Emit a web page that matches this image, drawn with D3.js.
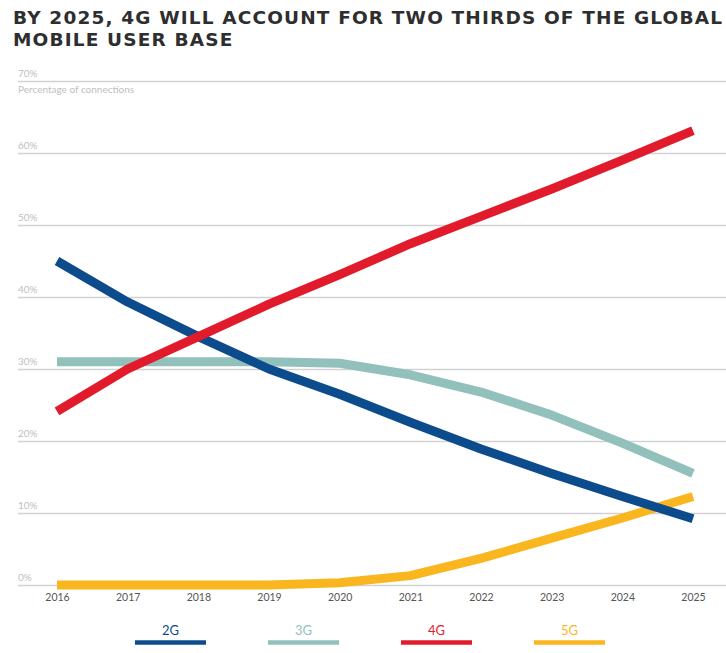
<!DOCTYPE html>
<html>
<head>
<meta charset="utf-8">
<script src="https://cdn.jsdelivr.net/npm/d3@7"></script>
<style>
  html, body { margin: 0; padding: 0; background: #ffffff; }
  svg { display: block; }
</style>
</head>
<body>
<svg id="chart" width="726" height="653"></svg>
<script>
// Share of global mobile connections by technology, 2016-2025
const years = [2016, 2017, 2018, 2019, 2020, 2021, 2022, 2023, 2024, 2025];
const values2G = [45, 39.3, 34.5, 30, 26.5, 22.6, 18.9, 15.5, 12.3, 9.2];
const values3G = [31, 31, 31, 31, 30.8, 29.2, 26.8, 23.6, 19.7, 15.5];
const values4G = [24.1, 30, 34.5, 39, 43.1, 47.4, 51.2, 55, 59, 63.1];
const values5G = [0, 0, 0, 0, 0.3, 1.3, 3.7, 6.5, 9.3, 12.3];
const seriesNames = ["2G", "3G", "4G", "5G"];
const yTicks = [0, 10, 20, 30, 40, 50, 60, 70];
const titleLines = ["BY 2025, 4G WILL ACCOUNT FOR TWO THIRDS OF THE GLOBAL", "MOBILE USER BASE"];
const axisTitle = "Percentage of connections";

const colors = { "2G": "#0d4c8c", "3G": "#92c1bb", "4G": "#e11b2b", "5G": "#fab61f" };
const seriesValues = { "2G": values2G, "3G": values3G, "4G": values4G, "5G": values5G };

const svg = d3.select("#chart");
const font = "Lato, 'Open Sans', sans-serif";

// Title: bold caps, spaced out to fill the first line
const title = svg.append("g");
const t1 = title.append("text").attr("x", 13).attr("y", 23.5)
  .text(titleLines[0]);
title.append("text").attr("x", 13).attr("y", 46)
  .text(titleLines[1]);
title.selectAll("text")
  .attr("font-family", "'DejaVu Sans', sans-serif").attr("font-weight", "bold")
  .attr("font-size", 18.5).attr("fill", "#2e2e2e");
const natural = t1.node().getComputedTextLength();
const spacing = (709 - natural) / (titleLines[0].length - 1);
title.selectAll("text").attr("letter-spacing", spacing);

// Scales
const x = d3.scalePoint().domain(years).range([57, 693]);
const y = d3.scaleLinear().domain([0, 70]).range([585, 81]);

// Horizontal gridlines with percentage labels sitting above each line
const yAxis = d3.axisRight(y)
  .tickValues(yTicks)
  .tickSize(708)
  .tickFormat(d => d + "%");
const gy = svg.append("g").attr("transform", "translate(18,0)").call(yAxis);
gy.select(".domain").remove();
gy.selectAll(".tick line").attr("stroke", "#d2d2d2").attr("stroke-width", 1.5);
gy.selectAll(".tick text")
  .attr("x", 0).attr("dy", -5).attr("text-anchor", "start")
  .attr("font-family", font).attr("font-size", 10).attr("fill", "#c0c0c0");

svg.append("text").attr("x", 18).attr("y", 93)
  .attr("font-family", font).attr("font-size", 10).attr("fill", "#c0c0c0")
  .text(axisTitle);

// Year labels along the bottom
const xAxis = d3.axisBottom(x).tickSize(0).tickPadding(0);
const gx = svg.append("g").attr("transform", "translate(0,594)").call(xAxis);
gx.select(".domain").remove();
gx.selectAll(".tick text")
  .attr("dy", "0.71em")
  .attr("font-family", font).attr("font-size", 10.5).attr("fill", "#555");

// Series lines
const line = d3.line()
  .x((d, i) => x(years[i]))
  .y(d => y(d));

const drawOrder = ["5G", "3G", "2G", "4G"];
svg.append("g").selectAll("path")
  .data(drawOrder)
  .join("path")
  .attr("d", k => line(seriesValues[k]))
  .attr("fill", "none")
  .attr("stroke", k => colors[k])
  .attr("stroke-width", 9)
  .attr("stroke-linecap", "butt")
  .attr("stroke-linejoin", "round");

// Legend: coloured label above a short bar
const legendX = d3.scalePoint().domain(seriesNames).range([170.5, 569.5]);
const legend = svg.append("g").selectAll("g")
  .data(seriesNames)
  .join("g")
  .attr("transform", k => `translate(${legendX(k)},0)`);
legend.append("text")
  .attr("y", 635).attr("text-anchor", "middle")
  .attr("font-family", font).attr("font-size", 13).attr("fill", k => colors[k])
  .text(k => k);
legend.append("line")
  .attr("x1", -35.5).attr("x2", 35.5)
  .attr("y1", 642.5).attr("y2", 642.5)
  .attr("stroke", k => colors[k]).attr("stroke-width", 4.5);
</script>
</body>
</html>
